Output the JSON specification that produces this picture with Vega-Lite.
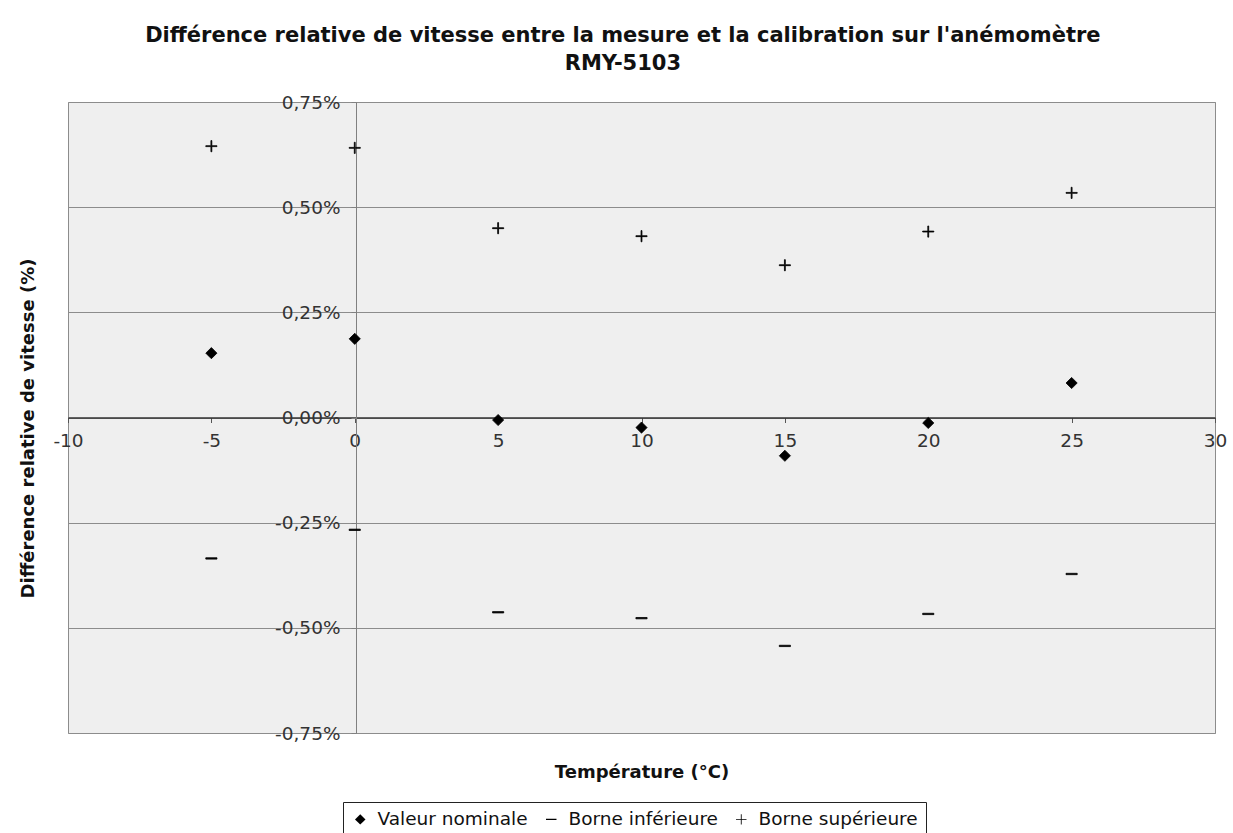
{
  "$schema": "https://vega.github.io/schema/vega-lite/v6.json",
  "width": 1147,
  "height": 631,
  "autosize": {"type": "none"},
  "padding": {"left": 68, "top": 102, "right": 18, "bottom": 100},
  "background": "white",
  "title": {
    "text": ["Différence relative de vitesse entre la mesure et la calibration sur l'anémomètre", "RMY-5103"],
    "font": "DejaVu Sans",
    "fontSize": 21,
    "fontWeight": "bold",
    "color": "#111111",
    "anchor": "middle",
    "frame": "bounds",
    "lineHeight": 28,
    "offset": 19
  },
  "config": {
    "view": {"fill": "#efefef", "stroke": "#8c8c8c", "strokeWidth": 1},
    "font": "DejaVu Sans"
  },
  "data": {
    "values": [
      {"T": -5, "serie": "Valeur nominale", "v": 0.153},
      {"T": 0, "serie": "Valeur nominale", "v": 0.187},
      {"T": 5, "serie": "Valeur nominale", "v": -0.006},
      {"T": 10, "serie": "Valeur nominale", "v": -0.024},
      {"T": 15, "serie": "Valeur nominale", "v": -0.091},
      {"T": 20, "serie": "Valeur nominale", "v": -0.013},
      {"T": 25, "serie": "Valeur nominale", "v": 0.082},
      {"T": -5, "serie": "Borne inférieure", "v": -0.335},
      {"T": 0, "serie": "Borne inférieure", "v": -0.267},
      {"T": 5, "serie": "Borne inférieure", "v": -0.463},
      {"T": 10, "serie": "Borne inférieure", "v": -0.477},
      {"T": 15, "serie": "Borne inférieure", "v": -0.543},
      {"T": 20, "serie": "Borne inférieure", "v": -0.467},
      {"T": 25, "serie": "Borne inférieure", "v": -0.372},
      {"T": -5, "serie": "Borne supérieure", "v": 0.645},
      {"T": 0, "serie": "Borne supérieure", "v": 0.641},
      {"T": 5, "serie": "Borne supérieure", "v": 0.45},
      {"T": 10, "serie": "Borne supérieure", "v": 0.431},
      {"T": 15, "serie": "Borne supérieure", "v": 0.362},
      {"T": 20, "serie": "Borne supérieure", "v": 0.442},
      {"T": 25, "serie": "Borne supérieure", "v": 0.534}
    ]
  },
  "mark": {"type": "point", "filled": true, "fill": "black", "stroke": "black", "strokeWidth": 0.8, "opacity": 1, "size": 125},
  "encoding": {
    "x": {
      "field": "T",
      "type": "quantitative",
      "scale": {"domain": [-10, 30], "nice": false, "zero": false},
      "axis": {
        "values": [-10, -5, 0, 5, 10, 15, 20, 25, 30],
        "labelExpr": "(datum.value < 0 ? '-' : '') + abs(datum.value)",
        "offset": -315.5,
        "grid": false,
        "domainColor": "#333333",
        "domainWidth": 1.5,
        "tickColor": "#555555",
        "tickSize": 5,
        "labelPadding": 9,
        "labelFont": "DejaVu Sans",
        "labelFontSize": 18.5,
        "labelColor": "#333333",
        "labelFlush": false,
        "labelOverlap": false,
        "title": "Température (°C)",
        "titleFont": "DejaVu Sans",
        "titleFontSize": 18,
        "titleFontWeight": "bold",
        "titleColor": "#111111",
        "titleBaseline": "middle",
        "titleY": 354.5,
        "zindex": 0
      }
    },
    "y": {
      "field": "v",
      "type": "quantitative",
      "scale": {"domain": [-0.75, 0.75], "nice": false, "zero": false},
      "axis": {
        "values": [-0.75, -0.5, -0.25, 0, 0.25, 0.5, 0.75],
        "labelExpr": "(datum.value < 0 ? '-' : '') + replace(format(abs(datum.value), '.2f'), '.', ',') + '%'",
        "offset": -288,
        "grid": true,
        "gridColor": "#8c8c8c",
        "gridWidth": 1,
        "domainColor": "#808080",
        "domainWidth": 1,
        "tickColor": "#808080",
        "tickSize": 5,
        "labelPadding": 11,
        "labelFont": "DejaVu Sans",
        "labelFontSize": 18.5,
        "labelColor": "#333333",
        "labelFlush": false,
        "labelOverlap": false,
        "title": "Différence relative de vitesse (%)",
        "titleFont": "DejaVu Sans",
        "titleFontSize": 18,
        "titleFontWeight": "bold",
        "titleColor": "#111111",
        "titleBaseline": "middle",
        "titleX": -328,
        "titleY": 326,
        "zindex": 0
      }
    },
    "shape": {
      "field": "serie",
      "type": "nominal",
      "scale": {
        "domain": ["Valeur nominale", "Borne inférieure", "Borne supérieure"],
        "range": ["diamond", "M-1,-0.12H1V0.12H-1Z", "M-1,-0.08H-0.08V-1H0.08V-0.08H1V0.08H0.08V1H-0.08V0.08H-1Z"]
      },
      "legend": {
        "title": null,
        "orient": "none",
        "direction": "horizontal",
        "legendX": 275,
        "legendY": 700,
        "strokeColor": "#222222",
        "fillColor": "white",
        "padding": 8,
        "labelFont": "DejaVu Sans",
        "labelFontSize": 18.5,
        "labelColor": "#111111",
        "labelOffset": 8,
        "columnPadding": 14,
        "symbolSize": 110,
        "symbolFillColor": "black",
        "symbolStrokeColor": "black",
        "symbolStrokeWidth": 0.8,
        "symbolOpacity": 1
      }
    }
  }
}
